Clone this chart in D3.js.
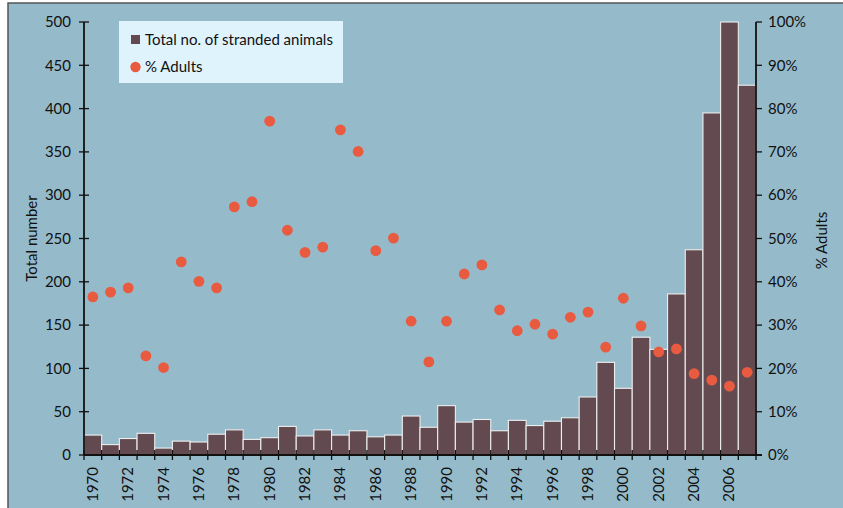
<!DOCTYPE html>
<html><head><meta charset="utf-8">
<script src="https://cdn.jsdelivr.net/npm/d3@7"></script>
<style>
html,body{margin:0;padding:0;background:#fff;}
svg{display:block;font-family:Lato,"Open Sans",sans-serif;}
</style></head>
<body><svg id="c" width="843" height="508"></svg>
<script>
const years = d3.range(1970, 2008);
const totals = [23,12,19,25,8,16,15,24,29,18,20,33,22,29,23,28,21,23,45,32,57,38,41,28,40,34,39,43,67,107,77,136,122,186,237,395,500,427];
const pctAdults = [36.5,37.6,38.6,22.9,20.2,44.6,40.1,38.6,57.3,58.5,77.1,51.9,46.8,48.0,75.1,70.1,47.2,50.1,30.9,21.5,30.9,41.8,43.9,33.5,28.7,30.2,27.9,31.8,33.0,24.9,36.2,29.8,23.8,24.5,18.8,17.3,15.9,19.1];
const leftTicks = [0,50,100,150,200,250,300,350,400,450,500];
const rightTicks = [0,10,20,30,40,50,60,70,80,90,100];
const labelYears = d3.range(1970, 2007, 2);
const legendLabels = ["Total no. of stranded animals", "% Adults"];

const svg = d3.select("#c");
const L = 84, R = 756, T = 22, B = 455;
const barColor = "#624a50", dotColor = "#e85b40", bg = "#95bbcb";

// frame/background
svg.append("rect").attr("x", 8).attr("y", 3).attr("width", 843).attr("height", 520)
  .attr("fill", bg).attr("stroke", "#555").attr("stroke-width", 1.5);

const x = d3.scaleBand().domain(years).range([L, R]).padding(0);
const yL = d3.scaleLinear().domain([0, 500]).range([B, T]);
const yR = d3.scaleLinear().domain([0, 100]).range([B, T]);

// bars
svg.append("g").selectAll("rect").data(years).join("rect")
  .attr("x", d => x(d))
  .attr("y", (d, i) => yL(totals[i]))
  .attr("width", x.bandwidth())
  .attr("height", (d, i) => B - yL(totals[i]))
  .attr("fill", barColor)
  .attr("stroke", "#eeeeee").attr("stroke-width", 1.1);

// x baseline + boundary ticks
const gx = svg.append("g");
gx.append("line").attr("x1", L).attr("x2", R + 6).attr("y1", B).attr("y2", B)
  .attr("stroke", "#111").attr("stroke-width", 2);
const bounds = years.map(d => x(d)).concat([R]);
gx.selectAll("line.t").data(bounds).join("line").attr("class", "t")
  .attr("x1", d => d).attr("x2", d => d).attr("y1", B - 5).attr("y2", B + 5)
  .attr("stroke", "#111").attr("stroke-width", 1.3);
gx.selectAll("text").data(labelYears).join("text")
  .attr("transform", d => `translate(${x(d) + x.bandwidth() / 2 + 5},467) rotate(-90)`)
  .attr("text-anchor", "end")
  .attr("font-size", 15).attr("fill", "#111")
  .text(d => d);

// left axis
const gl = svg.append("g");
gl.append("line").attr("x1", L).attr("x2", L).attr("y1", T).attr("y2", B)
  .attr("stroke", "#111").attr("stroke-width", 1.8);
gl.selectAll("line.t").data(leftTicks).join("line").attr("class", "t")
  .attr("x1", L - 5).attr("x2", L + 5).attr("y1", d => yL(d)).attr("y2", d => yL(d))
  .attr("stroke", "#111").attr("stroke-width", 1.3);
gl.selectAll("text").data(leftTicks).join("text")
  .attr("x", 71).attr("y", d => yL(d)).attr("dy", "0.35em")
  .attr("text-anchor", "end").attr("font-size", 15).attr("fill", "#111")
  .text(d => d);
svg.append("text").attr("transform", `translate(37,${(T + B) / 2}) rotate(-90)`)
  .attr("text-anchor", "middle").attr("font-size", 15).attr("fill", "#111").text("Total number");

// right axis
const gr = svg.append("g");
gr.append("line").attr("x1", R).attr("x2", R).attr("y1", T).attr("y2", B)
  .attr("stroke", "#111").attr("stroke-width", 1.8);
gr.selectAll("line.t").data(rightTicks).join("line").attr("class", "t")
  .attr("x1", R).attr("x2", R + 6).attr("y1", d => yR(d)).attr("y2", d => yR(d))
  .attr("stroke", "#111").attr("stroke-width", 1.3);
gr.selectAll("text").data(rightTicks).join("text")
  .attr("x", 768).attr("y", d => yR(d)).attr("dy", "0.35em")
  .attr("text-anchor", "start").attr("font-size", 15).attr("fill", "#111")
  .text(d => d + "%");
svg.append("text").attr("transform", `translate(827,${(T + B) / 2 + 2}) rotate(-90)`)
  .attr("text-anchor", "middle").attr("font-size", 15).attr("fill", "#111").text("% Adults");

// dots
svg.append("g").selectAll("circle").data(years).join("circle")
  .attr("cx", d => x(d) + x.bandwidth() / 2)
  .attr("cy", (d, i) => yR(pctAdults[i]))
  .attr("r", 5.4).attr("fill", dotColor);

// legend
const lg = svg.append("g");
lg.append("rect").attr("x", 119).attr("y", 21).attr("width", 224).attr("height", 62).attr("fill", "#dff3fc");
lg.append("rect").attr("x", 131).attr("y", 35).attr("width", 9).attr("height", 9).attr("fill", barColor);
lg.append("circle").attr("cx", 135.5).attr("cy", 67).attr("r", 5.2).attr("fill", dotColor);
lg.selectAll("text").data(legendLabels).join("text")
  .attr("x", 145).attr("y", (d, i) => i === 0 ? 40 : 67).attr("dy", "0.35em")
  .attr("font-size", 15).attr("fill", "#111").text(d => d);
</script></body></html>
